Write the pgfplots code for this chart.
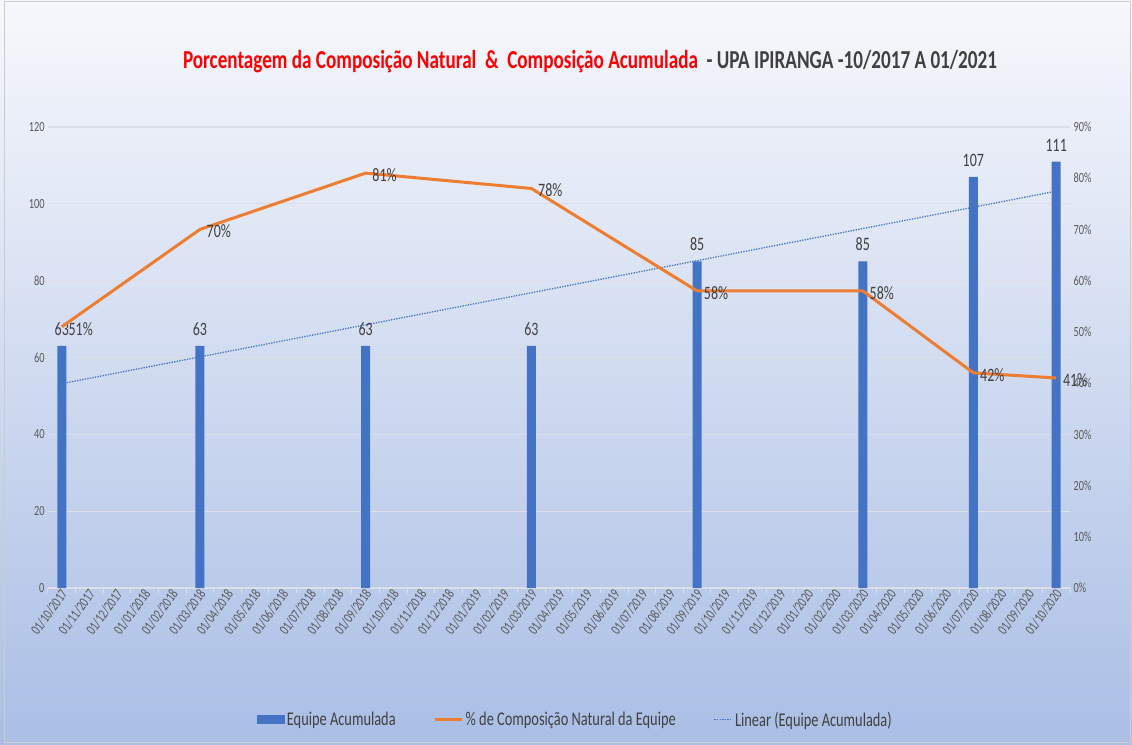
\documentclass[border=0pt]{standalone}
\usepackage{fontspec}
\setmainfont{Carlito}[FakeStretch=0.74]
\usepackage{pgfplots}
\pgfplotsset{compat=1.18}
\usepackage{pgfplotstable}

\definecolor{barblue}{HTML}{4472C4}
\definecolor{lineorange}{HTML}{ED7D31}
\definecolor{ticktext}{HTML}{595959}
\definecolor{labeltext}{HTML}{404040}
\definecolor{gridc}{HTML}{DCDFE6}
\definecolor{bgtop}{RGB}{247,248,252}
\definecolor{bgbottom}{RGB}{170,190,229}

% equipe acumulada, x = months since 10/2017
\pgfplotstableread{
x y
0 63
5 63
11 63
17 63
23 85
29 85
33 107
36 111
}\equipe

% % de composicao natural
\pgfplotstableread{
x p
0 51
5 70
11 81
17 78
23 58
29 58
33 42
36 41
}\natural

\begin{document}
\begin{tikzpicture}
\shade[top color=bgtop, bottom color=bgbottom] (0bp,0bp) rectangle (1132bp,745bp);
\draw[gray!40, line width=1bp] (4bp,2bp) rectangle (1130bp,743bp);

\node[font=\fontsize{26}{30}\selectfont\bfseries] at (590bp,683bp)
  {\textcolor{red}{Porcentagem da Composição Natural \ \&\ \ Composição Acumulada}\ \ \textcolor{labeltext}{- UPA IPIRANGA -10/2017 A 01/2021}};

\begin{axis}[
    at={(48bp,157bp)}, anchor=south west,
    scale only axis, width=1022bp, height=461bp,
    xmin=-0.5, xmax=36.5, ymin=0, ymax=120,
    ytick={0,20,...,120},
    ymajorgrids, grid style={gridc, line width=1.2bp},
    axis x line*=bottom, axis y line*=left, separate axis lines,
    x axis line style={-, gridc, line width=1.2bp},
    y axis line style={draw=none},
    major tick length=0pt,
    xtick={0,...,36},
    minor xtick={-0.5,0.5,...,36.5},
    minor tick length=5bp, tick align=outside,
    minor tick style={gridc, line width=1bp},
    xticklabels={01/10/2017,01/11/2017,01/12/2017,01/01/2018,01/02/2018,01/03/2018,01/04/2018,01/05/2018,01/06/2018,01/07/2018,01/08/2018,01/09/2018,01/10/2018,01/11/2018,01/12/2018,01/01/2019,01/02/2019,01/03/2019,01/04/2019,01/05/2019,01/06/2019,01/07/2019,01/08/2019,01/09/2019,01/10/2019,01/11/2019,01/12/2019,01/01/2020,01/02/2020,01/03/2020,01/04/2020,01/05/2020,01/06/2020,01/07/2020,01/08/2020,01/09/2020,01/10/2020},
    xticklabel style={rotate=54, anchor=east, font=\fontsize{14.5}{16}\selectfont, text=ticktext, inner sep=1bp, yshift=-4bp},
    yticklabel style={font=\fontsize{14}{16}\selectfont, text=ticktext},
    /pgf/number format/assume math mode=true,
    clip=false,
    legend columns=3,
    legend style={at={(axis description cs:0.516,-0.286)}, anchor=center, draw=none, fill=none,
      font=\fontsize{19.5}{22}\selectfont, text=labeltext,
      /tikz/every even column/.append style={column sep=36bp}},
]
\addplot[ybar, bar width=9bp, fill=barblue, draw=none,
    nodes near coords,
    every node near coord/.append style={font=\fontsize{19}{21}\selectfont, text=labeltext, anchor=south, yshift=7bp},
    legend image code/.code={\fill[barblue] (0bp,-4.5bp) rectangle (28bp,4.5bp);}]
  table[x=x, y=y] {\equipe};
\addlegendentry{Equipe Acumulada}
\addlegendimage{lineorange, line width=3bp, legend image code/.code={\draw[lineorange, line width=3bp] (0bp,0bp) -- (27bp,0bp);}}
\addlegendentry{\% de Composição Natural da Equipe}
\addplot[barblue, line width=1.3bp, dash pattern=on 1.3bp off 1.3bp,
    legend image code/.code={\draw[barblue, line width=1.3bp, dash pattern=on 1.3bp off 1.3bp] (0bp,0bp) -- (18bp,0bp);}]
  coordinates {(0,53.2) (36,103.3)};
\addlegendentry{Linear (Equipe Acumulada)}
\end{axis}

\begin{axis}[
    at={(48bp,157bp)}, anchor=south west,
    scale only axis, width=1022bp, height=461bp,
    xmin=-0.5, xmax=36.5, ymin=0, ymax=90,
    axis x line=none, axis y line*=right,
    y axis line style={draw=none},
    major tick length=0pt,
    ytick={0,10,...,90},
    yticklabel={\pgfmathprintnumber{\tick}\%},
    yticklabel style={font=\fontsize{14}{16}\selectfont, text=ticktext},
    /pgf/number format/assume math mode=true,
    clip=false,
]
\addplot[lineorange, line width=3bp, line join=round,
    nodes near coords={\pgfmathprintnumber{\pgfplotspointmeta}\%},
    every node near coord/.append style={font=\fontsize{19}{21}\selectfont, text=labeltext, anchor=west, xshift=2bp, yshift=-2bp}]
  table[x=x, y=p] {\natural};
\end{axis}
\end{tikzpicture}
\end{document}
